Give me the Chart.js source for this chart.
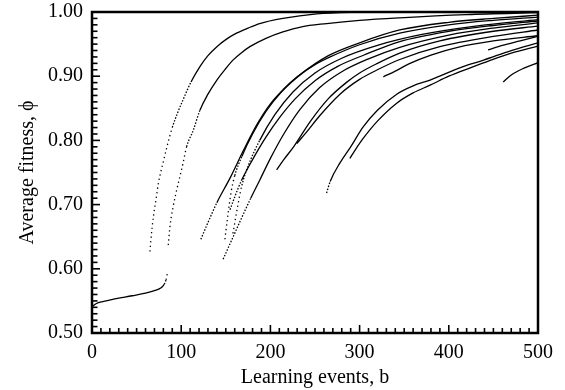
<!DOCTYPE html>
<html>
<head>
<meta charset="utf-8">
<script src="https://cdn.jsdelivr.net/npm/chart.js@4.4.1/dist/chart.umd.min.js"></script>
<style>
  html, body { margin: 0; padding: 0; background: #fff; }
  #wrap { width: 565px; height: 390px; }
</style>
</head>
<body>
<div id="wrap"><canvas id="c" width="565" height="390"></canvas></div>
<script>
// ---- data (x = learning events b, y = average fitness phi) ----
const xTickLabels = ['0', '100', '200', '300', '400', '500'];
const yTickLabels = ['0.50', '0.60', '0.70', '0.80', '0.90', '1.00'];

const curveInit = [[0,0.541],[5,0.546],[12,0.549],[25,0.553],[45,0.558],[60,0.562],[70,0.566],[77,0.570],[81,0.576],[83,0.583],[84.5,0.593]];
const curveA = [[65,0.627],[66,0.645],[68.8,0.681],[72,0.71],[74.4,0.733],[80,0.767],[84,0.790],[90,0.820],[96,0.843],[102,0.863],[111,0.891],[121,0.915],[130,0.932],[140,0.946],[150,0.957],[162,0.967],[175,0.975],[188,0.982],[214,0.990],[252,0.997],[290,0.9995],[330,1.0]];
const curveB = [[85.5,0.637],[87.4,0.666],[91,0.697],[95,0.723],[102,0.764],[106,0.790],[113.6,0.816],[121,0.847],[130,0.872],[140,0.894],[150,0.912],[158,0.925],[168,0.937],[177,0.946],[195,0.959],[214,0.969],[235,0.977],[263,0.982],[300,0.987],[345,0.991],[420,0.996],[500,0.999]];
const curveC1 = [[122,0.646],[130,0.672],[140,0.703],[155,0.742],[170,0.785],[185,0.825],[200,0.857],[215,0.880],[230,0.899],[250,0.918],[267,0.930],[300,0.949],[345,0.967],[400,0.980],[450,0.987],[500,0.992]];
const curveC2 = [[149,0.646],[152,0.680],[156,0.720],[160,0.745],[168,0.775],[180,0.810],[195,0.845],[212,0.875],[235,0.904],[265,0.932],[300,0.952],[345,0.972],[400,0.984],[450,0.990],[500,0.995]];
const curveC3 = [[154.7,0.692],[160,0.712],[167.7,0.738],[180,0.770],[195,0.805],[210,0.835],[228,0.865],[250,0.893],[275,0.915],[305,0.933],[345,0.954],[400,0.970],[450,0.979],[500,0.986]];
const curveC4 = [[147,0.615],[157,0.646],[167,0.677],[178,0.710],[188,0.738],[200,0.772],[215,0.810],[233,0.848],[255,0.882],[280,0.907],[310,0.927],[345,0.945],[400,0.964],[450,0.975],[500,0.983]];
const curveC5 = [[158,0.655],[163,0.695],[168,0.730],[175,0.760],[188,0.800],[205,0.840],[225,0.875],[250,0.905],[280,0.928],[320,0.948],[370,0.965],[430,0.978],[500,0.988]];
const curveG = [[207,0.754],[215,0.770],[226,0.790],[245,0.830],[265,0.865],[285,0.890],[300,0.905],[320,0.920],[345,0.936],[390,0.955],[450,0.970],[500,0.978]];
const curveH = [[229.5,0.795],[240,0.812],[255,0.838],[278,0.872],[300,0.895],[320,0.910],[345,0.926],[390,0.946],[450,0.962],[500,0.972]];
const curveI = [[326.6,0.899],[340,0.908],[356.5,0.920],[380,0.933],[410,0.945],[450,0.955],[500,0.963]];
const curveD = [[263,0.718],[267,0.736],[278,0.765],[290,0.790],[304,0.821],[320,0.847],[341.6,0.872],[360,0.885],[379,0.894],[416,0.915],[439,0.925],[470,0.940],[500,0.952]];
const curveE = [[289,0.772],[295,0.785],[304,0.803],[320,0.830],[341.6,0.858],[360,0.874],[379,0.886],[400,0.900],[424,0.913],[445,0.924],[470,0.936],[500,0.947]];
const curveJ = [[444,0.941],[460,0.948],[480,0.955],[500,0.962]];
const curveF = [[461,0.891],[470,0.902],[485,0.913],[500,0.921]];

const curves = [curveInit, curveA, curveB, curveC1, curveC2, curveC3, curveC4, curveC5, curveG, curveH, curveI, curveD, curveE, curveJ, curveF];

// ---- styling ----
const FONT = "'Liberation Serif', 'Times New Roman', serif";

function dashFor(c) {
  const dx = Math.abs(c.p1.x - c.p0.x);
  const dy = Math.abs(c.p1.y - c.p0.y);
  const s = dy / Math.max(dx, 0.01);
  if (s > 3.3) return [1.3, 3.2];
  if (s > 2.1) return [1.5, 1.6];
  return undefined;
}

const datasets = curves.map(pts => ({
  data: pts.map(p => ({ x: p[0], y: p[1] })),
  borderColor: '#000',
  borderWidth: 1.3,
  pointRadius: 0,
  fill: false,
  cubicInterpolationMode: 'monotone',
  segment: { borderDash: dashFor }
}));

const frameTicks = {
  id: 'frameTicks',
  afterDraw(chart) {
    const { ctx, chartArea: { left, right, top, bottom }, scales: { x, y } } = chart;
    ctx.save();
    ctx.strokeStyle = '#000';
    ctx.lineWidth = 1.6;
    x.ticks.forEach(t => {
      const px = x.getPixelForValue(t.value);
      const major = Math.abs(t.value / 100 - Math.round(t.value / 100)) < 1e-6;
      const len = major ? 8 : 5;
      ctx.beginPath(); ctx.moveTo(px, bottom); ctx.lineTo(px, bottom - len); ctx.stroke();
    });
    y.ticks.forEach(t => {
      const py = y.getPixelForValue(t.value);
      const major = Math.abs(t.value * 10 - Math.round(t.value * 10)) < 1e-6;
      const len = major ? 8 : 5.5;
      ctx.beginPath(); ctx.moveTo(left, py); ctx.lineTo(left + len, py); ctx.stroke();
    });
    ctx.lineWidth = 2.5;
    ctx.strokeRect(left, top, right - left, bottom - top);
    ctx.restore();
  }
};

new Chart(document.getElementById('c'), {
  type: 'line',
  data: { datasets },
  plugins: [frameTicks],
  options: {
    responsive: false,
    animation: false,
    layout: { padding: { left: 0, right: 27, top: 12, bottom: 0 } },
    plugins: { legend: { display: false }, tooltip: { enabled: false } },
    scales: {
      x: {
        type: 'linear',
        min: 0, max: 500,
        border: { display: false },
        grid: { display: false, drawTicks: false },
        ticks: {
          stepSize: 10, autoSkip: false, maxRotation: 0, maxTicksLimit: 100,
          padding: 8, color: '#000',
          font: { family: FONT, size: 20 },
          callback: v => {
            const i = Math.round(v / 100);
            return Math.abs(v - i * 100) < 1e-6 ? xTickLabels[i] : '';
          }
        },
        title: {
          display: true, text: 'Learning events, b', color: '#000',
          font: { family: FONT, size: 20 }, padding: { top: 1, bottom: 0 }
        },
        afterFit: s => { s.height = 57; s.paddingLeft = 0; s.paddingRight = 0; }
      },
      y: {
        type: 'linear',
        min: 0.5, max: 1.0,
        border: { display: false },
        grid: { display: false, drawTicks: false },
        ticks: {
          stepSize: 0.01, autoSkip: false, maxTicksLimit: 100,
          padding: 9, color: '#000',
          font: { family: FONT, size: 20 },
          callback: v => {
            const i = Math.round((v - 0.5) * 10);
            return Math.abs(v - (0.5 + i * 0.1)) < 1e-6 ? yTickLabels[i] : '';
          }
        },
        title: {
          display: true, text: 'Average fitness, \u03D5', color: '#000',
          font: { family: FONT, size: 20 }, padding: { top: 16, bottom: 0 }
        },
        afterFit: s => { s.width = 92; s.paddingTop = 0; s.paddingBottom = 0; }
      }
    }
  }
});
</script>
</body>
</html>
